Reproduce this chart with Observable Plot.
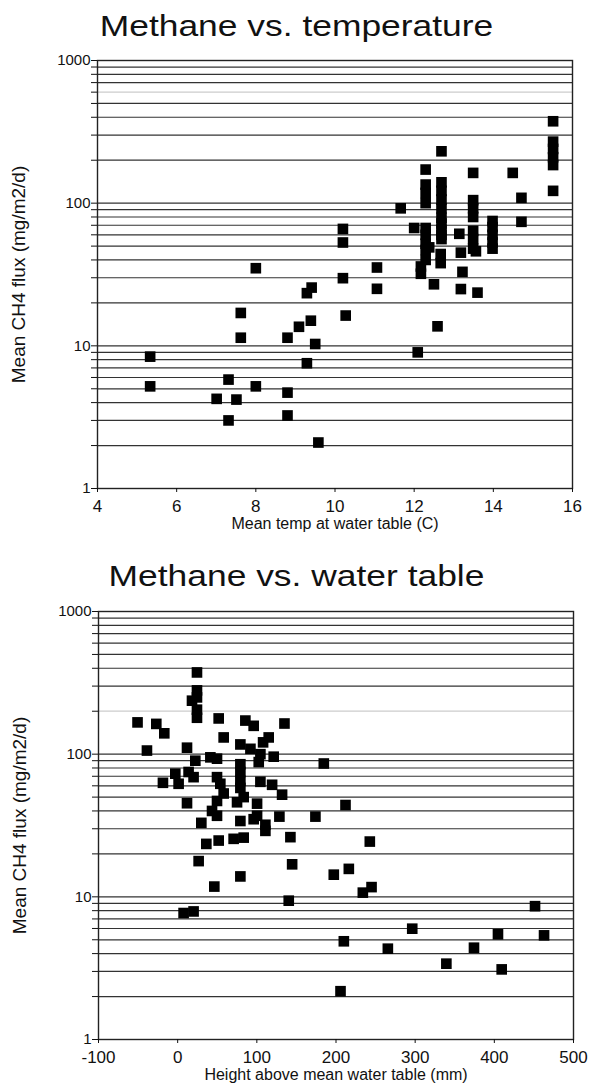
<!DOCTYPE html>
<html>
<head>
<meta charset="utf-8">
<script src="https://cdn.jsdelivr.net/npm/d3@7"></script>
<script src="https://cdn.jsdelivr.net/npm/@observablehq/plot@0.6"></script>
<style>
  body { margin: 0; background: white; }
  #wrap { position: relative; width: 593px; height: 1092px; overflow: hidden; }
  .title { position: absolute; left: 0; width: 593px; text-align: center;
    font-family: 'Liberation Sans', Arial, sans-serif; font-size: 30px; line-height: 30px;
    transform: scaleX(1.18); color: #111; }
  #top, #bottom { position: absolute; left: 0; }
  #top { top: 0; }
  #bottom { top: 548px; }
</style>
</head>
<body>
<div id="wrap">
  <div id="top"></div>
  <div id="bottom"></div>
  <div class="title" style="top: 11px">Methane vs. temperature</div>
  <div class="title" style="top: 561px">Methane vs. water table</div>
</div>
<script>
// Methane vs. temperature
const tempX = [5.33, 5.33, 7.01, 7.31, 7.31, 7.51, 7.62, 7.62, 8.0, 8.0,
  8.8, 8.8, 8.8, 9.09, 9.29, 9.29, 9.41, 9.39, 9.5, 9.58,
  10.2, 10.2, 10.2, 10.27, 11.06, 11.06, 11.66, 12.0, 12.09, 12.17, 12.17,
  12.29, 12.29, 12.29, 12.29, 12.29, 12.29, 12.29, 12.29, 12.29, 12.38, 12.5, 12.59,
  12.69, 12.69, 12.69, 12.69, 12.69, 12.69, 12.69, 12.69, 12.69, 12.69, 12.67, 12.67,
  13.14, 13.18, 13.18, 13.22,
  13.49, 13.49, 13.49, 13.49, 13.49, 13.49, 13.49, 13.56, 13.6,
  13.98, 13.98, 13.98, 13.98, 13.98, 14.49, 14.71, 14.71,
  15.51, 15.51, 15.51, 15.51, 15.51, 15.51];
const tempFlux = [8.4, 5.2, 4.25, 5.8, 3.0, 4.2, 17, 11.4, 35, 5.2,
  11.4, 4.7, 3.25, 13.6, 23.4, 7.55, 25.6, 15, 10.3, 2.1,
  66, 53, 29.8, 16.3, 35.4, 25.1, 92, 67, 9.0, 36, 32,
  172, 135, 118, 100, 67, 60, 52, 47, 40, 49, 27, 13.7,
  231, 140, 122, 106, 92, 79, 72, 65, 60, 56, 44, 38,
  61, 45, 25, 33,
  163, 105, 92, 80, 64, 56, 48, 46, 23.6,
  75, 68, 60, 53, 48, 163, 109, 74,
  375, 270, 240, 210, 185, 122];

// Methane vs. water table
const heightX = [24.4, 24.4, 24.4, 24.4, 24.4, 18.1, -50.7, -27, -16.9, -38.8,
  11.8, 51.8, 85.5, 96, 134.9, 58.1, 115, 107.9, 79.2, 91.9,
  104.5, 121.3, 102.4, 184.6, 41.3, 49.7, 22.3, -3, 13.8, 20.1,
  -18.6, 1.2, 49.7, 53.9, 79.2, 79.2, 79.2, 79.2, 104.5, 119.3,
  131.9, 11.8, 174, 128.5, 29.9, 110.8, 110.8, 79.2, 49.7, 49.7,
  43.4, 75, 100.3, 100.3, 96, 58.1, 83.4, 142.4, 144.6, 197.2,
  36.2, 51.8, 70.7, 83.4, 26.5, 79.2, 46.3, 140.3, 7.5, 20.1,
  212, 242.7, 216.2, 233.9, 244.9, 451.4, 296.3, 209.9, 265.5, 404.6,
  462.8, 374.3, 339.4, 409.3, 205.7];
const heightFlux = [374, 280, 250, 205, 180, 237, 167, 163, 140, 106,
  111, 178, 172, 158, 164, 131, 131, 121, 117, 109,
  100, 96, 88, 86, 95, 93, 90, 73, 75, 69,
  63, 62, 69, 62, 85, 75, 65, 58, 64, 61,
  52, 45.3, 36.5, 36.5, 33, 32, 29, 34, 37, 47,
  40, 46, 45, 37, 35, 53, 50, 26.2, 16.9, 14.3,
  23.5, 24.8, 25.5, 26, 17.8, 13.9, 11.8, 9.4, 7.7, 7.9,
  44, 24.4, 15.7, 10.7, 11.7, 8.6, 5.98, 4.88, 4.33, 5.46,
  5.37, 4.4, 3.4, 3.1, 2.18];

const fluxTicks = [1, 2, 3, 4, 5, 6, 7, 8, 9, 10, 20, 30, 40, 50, 60, 70, 80, 90,
  100, 200, 300, 400, 500, 600, 700, 800, 900, 1000];
const fluxLabels = [1, 10, 100, 1000];
const tempTicks = [4, 6, 8, 10, 12, 14, 16];
const heightTicks = [-100, 0, 100, 200, 300, 400, 500];

const yLabel = "Mean CH4 flux (mg/m2/d)";
const font = "'Liberation Sans', Arial, sans-serif";

function chart({xs, ys, xDomain, xTicks, xLabel, height, top, bottom, left, right, faint}) {
  const data = xs.map((x, i) => ({x, y: ys[i]}));
  return Plot.plot({
    width: 593,
    height,
    marginTop: top,
    marginBottom: bottom,
    marginLeft: left,
    marginRight: right,
    x: {domain: xDomain},
    y: {type: "log", domain: [1, 1000]},
    style: {fontFamily: font, fontSize: "16px", color: "#111", background: "white", overflow: "visible"},
    marks: [
      Plot.ruleY(fluxTicks, {stroke: d => d == faint ? "#ccc" : "#333", strokeWidth: 1.2}),
      Plot.frame({stroke: "#222", strokeWidth: 1.4}),
      Plot.axisY(fluxTicks, {tickFormat: d => fluxLabels.includes(d) ? String(d) : "", tickSize: 6, tickPadding: 1, label: null, fontSize: 15}),
      Plot.axisX(xTicks, {tickFormat: d => String(d), tickSize: 4, tickPadding: 7, label: null, fontSize: 17}),
      Plot.text([yLabel], {frameAnchor: "left", textAnchor: "middle", dx: -79, rotate: -90, fontSize: 19}),
      Plot.text([xLabel], {frameAnchor: "bottom", dy: 40, fontSize: 16}),
      Plot.dot(data, {x: "x", y: "y", symbol: "square", r: 6, fill: "black"})
    ]
  });
}

document.getElementById("top").append(chart({
  xs: tempX, ys: tempFlux, xDomain: [4, 16], xTicks: tempTicks,
  xLabel: "Mean temp at water table (C)",
  height: 548, top: 60, bottom: 60, left: 97, right: 21, faint: 600
}));

document.getElementById("bottom").append(chart({
  xs: heightX, ys: heightFlux, xDomain: [-100, 500], xTicks: heightTicks,
  xLabel: "Height above mean water table (mm)",
  height: 544, top: 63, bottom: 53, left: 98, right: 20, faint: 200
}));
</script>
</body>
</html>
